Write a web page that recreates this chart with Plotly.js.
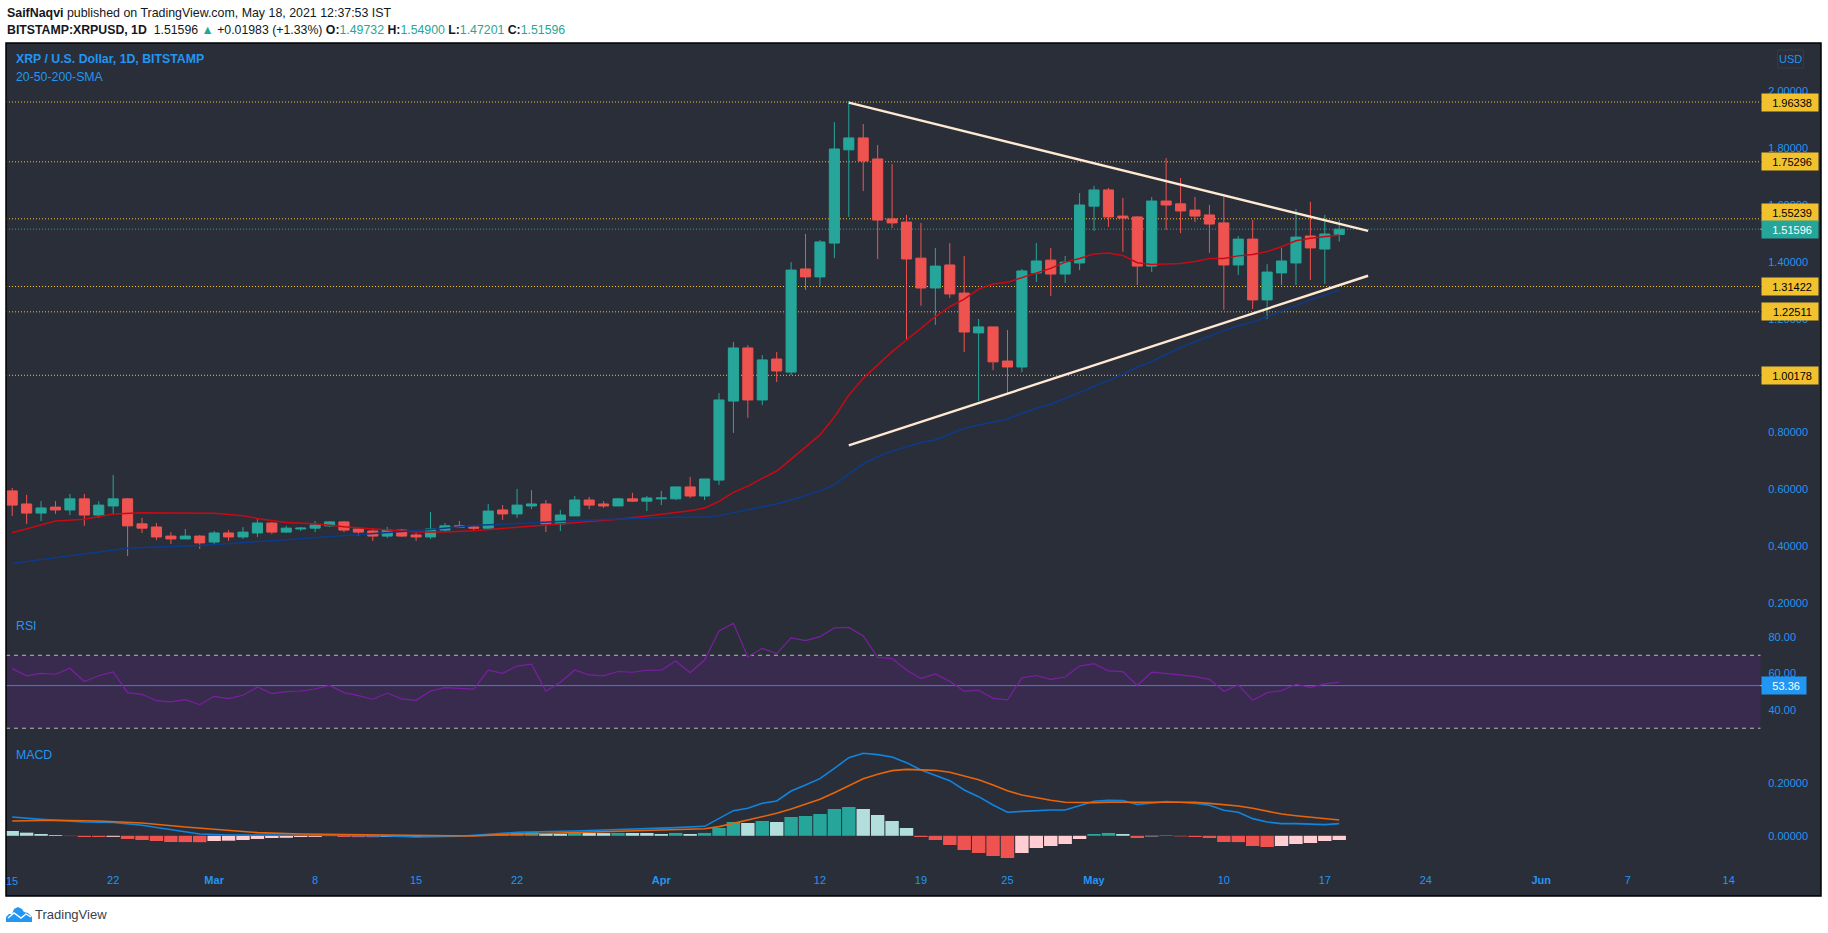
<!DOCTYPE html>
<html>
<head>
<meta charset="utf-8">
<title>XRPUSD</title>
<script src="https://cdn.plot.ly/plotly-3.0.1.min.js"></script>
<style>
  html, body { margin: 0; padding: 0; background: #ffffff; overflow: hidden; }
</style>
</head>
<body>
<div id="chart" style="width:1828px;height:933px;"></div>
<script>
// daily candles, Feb 15 to May 18 2021
var opens = [0.595,0.549,0.517,0.538,0.528,0.567,0.510,0.542,0.567,0.479,0.468,0.436,0.426,0.436,0.415,0.447,0.433,0.447,0.482,0.450,0.461,0.464,0.472,0.486,0.461,0.454,0.436,0.457,0.440,0.433,
  0.457,0.472,0.468,0.464,0.528,0.514,0.542,0.549,0.479,0.507,0.563,0.549,0.542,0.567,0.559,0.567,0.567,0.609,0.577,0.633,0.911,1.098,0.915,1.059,
  1.013,1.376,1.348,1.467,1.795,1.837,1.763,1.552,1.541,1.414,1.309,1.390,1.291,1.151,1.172,1.052,1.031,1.362,1.407,1.358,
  1.397,1.597,1.654,1.562,1.559,1.386,1.615,1.605,1.583,1.566,1.538,1.390,1.481,1.267,1.362,1.397,1.492,1.446,1.49732];
var highs = [0.605,0.581,0.559,0.559,0.584,0.584,0.559,0.651,0.570,0.500,0.482,0.450,0.461,0.440,0.454,0.457,0.468,0.496,0.486,0.472,0.468,0.489,0.489,0.489,0.464,0.464,0.468,0.461,0.447,0.521,
  0.482,0.489,0.475,0.549,0.545,0.602,0.598,0.563,0.528,0.577,0.574,0.559,0.570,0.588,0.577,0.595,0.609,0.644,0.637,0.939,1.119,1.108,1.073,1.084,
  1.400,1.499,1.478,1.893,1.967,1.886,1.812,1.745,1.566,1.538,1.450,1.467,1.422,1.200,1.172,1.161,1.376,1.467,1.450,1.422,
  1.643,1.668,1.661,1.626,1.562,1.629,1.766,1.696,1.629,1.601,1.629,1.492,1.548,1.393,1.450,1.587,1.612,1.566,1.549];
var lows = [0.507,0.479,0.489,0.514,0.510,0.472,0.500,0.510,0.366,0.447,0.422,0.408,0.426,0.391,0.408,0.419,0.426,0.433,0.443,0.447,0.454,0.450,0.468,0.450,0.436,0.419,0.429,0.433,0.419,0.426,
  0.450,0.464,0.454,0.461,0.493,0.500,0.531,0.450,0.454,0.507,0.531,0.535,0.542,0.556,0.524,0.545,0.563,0.570,0.563,0.616,0.799,0.852,0.897,0.978,
  1.003,1.302,1.316,1.414,1.559,1.650,1.411,1.520,1.126,1.246,1.179,1.274,1.084,0.911,1.020,0.939,1.013,1.330,1.281,1.327,
  1.372,1.510,1.524,1.436,1.319,1.365,1.513,1.502,1.541,1.432,1.232,1.355,1.235,1.200,1.319,1.319,1.337,1.323,1.47201];
var closes = [0.545,0.517,0.535,0.528,0.567,0.510,0.545,0.567,0.472,0.464,0.433,0.426,0.436,0.412,0.447,0.433,0.450,0.482,0.450,0.464,0.464,0.475,0.486,0.457,0.450,0.436,0.457,0.436,0.433,0.461,
  0.472,0.467,0.464,0.524,0.514,0.545,0.549,0.479,0.510,0.563,0.545,0.542,0.567,0.559,0.570,0.570,0.609,0.577,0.637,0.915,1.098,0.915,1.056,1.017,
  1.372,1.348,1.471,1.798,1.837,1.756,1.548,1.538,1.411,1.309,1.386,1.288,1.154,1.172,1.049,1.031,1.369,1.404,1.358,1.400,
  1.601,1.654,1.559,1.555,1.386,1.615,1.601,1.580,1.562,1.534,1.390,1.481,1.267,1.365,1.404,1.488,1.450,1.499,1.51596];

// moving averages, read at these day numbers
var sma20Days = [0,3,5,7,9,14,16,17,19,21,23,26,28,30,32,34,37,40,42,44,46,47,48,49,50,51,52,53,54,55,56,57,58,59,60,61,62,63,64,65,66,67,68,69,70,71,72,73,74,75,76,77,78,79,80,81,82,83,84,85,86,87,88,89,90,91,92];
var sma20 = [0.448,0.489,0.495,0.514,0.518,0.516,0.508,0.498,0.484,0.479,0.469,0.459,0.450,0.450,0.455,0.463,0.475,0.486,0.495,0.507,0.518,0.525,0.535,0.558,0.590,0.612,0.639,0.665,0.707,0.748,0.792,0.855,0.932,0.991,1.038,1.085,1.126,1.167,1.208,1.243,1.270,1.305,1.323,1.329,1.345,1.361,1.378,1.400,1.413,1.429,1.432,1.423,1.398,1.392,1.393,1.395,1.402,1.413,1.413,1.422,1.427,1.437,1.454,1.475,1.484,1.490,1.495];
var sma50Days = [0,8,10,13,18,24,29,32,37,40,46,48,49,50,51,52,53,54,55,56,57,58,59,60,61,62,63,64,65,66,67,68,69,70,71,72,73,74,75,76,77,78,79,80,81,82,83,84,85,86,87,88,89,90,91,92];
var sma50 = [0.340,0.393,0.398,0.403,0.420,0.441,0.459,0.473,0.487,0.493,0.502,0.502,0.508,0.518,0.528,0.537,0.549,0.563,0.578,0.595,0.616,0.655,0.690,0.715,0.735,0.750,0.765,0.774,0.794,0.815,0.827,0.836,0.847,0.868,0.886,0.900,0.921,0.942,0.965,0.985,1.005,1.030,1.050,1.075,1.100,1.120,1.140,1.159,1.176,1.189,1.208,1.228,1.247,1.267,1.284,1.301];

// support / resistance
var levels = [1.96338,1.75296,1.55239,1.31422,1.22511,1.00178];
var lastPrice = 1.51596;
var trendDates = ["2021-04-14","2021-05-20"];
var upperTrend = [1.961,1.510];
var lowerTrend = [0.755,1.352];

var rsi = [62.7,58.7,60.1,59.6,62.9,55.6,58.8,60.9,49.5,48.6,45.1,44.4,45.7,42.9,47.5,46.2,48.1,52.6,49.0,50.1,50.4,51.5,53.5,49.5,47.9,45.9,49.3,46.1,45.3,50.4,52.3,52.1,51.5,61.9,60.1,64.1,65.1,50.3,55.2,61.9,59.2,58.7,61.1,
  60.7,61.8,61.8,66.9,60.5,67.4,83.3,87.5,69.1,73.8,70.9,79.5,78.0,80.2,85.0,85.3,80.6,68.9,68.2,61.9,57.2,59.8,55.7,50.3,50.8,46.4,45.5,57.6,58.9,56.8,58.1,64.1,65.4,61.4,61.0,53.5,60.7,60.1,59.2,58.3,56.8,50.3,53.7,45.3,49.5,50.6,54.1,52.4,54.3,55.2];
var rsiNow = 53.36;

var macdHist = [0.0181,0.0118,0.0068,0.0030,-0.0010,-0.0045,-0.0045,-0.0040,-0.0120,-0.0158,-0.0196,-0.0234,-0.0238,-0.0242,-0.0196,-0.0185,-0.0158,-0.0120,-0.0083,-0.0075,-0.0045,-0.0040,-0.0010,-0.0045,-0.0050,-0.0052,-0.0045,-0.0040,-0.0035,-0.0020,-0.0018,-0.0010,-0.0008,
  0.0030,0.0093,0.0118,0.0143,0.0080,0.0078,0.0106,0.0104,0.0102,0.0107,0.0106,0.0105,0.0068,0.0107,0.0068,0.0107,0.0294,0.0520,0.0483,0.0558,0.0520,0.0709,0.0747,0.0822,0.1011,0.1086,0.1011,0.0785,0.0558,0.0294,
  -0.0045,-0.0158,-0.0347,-0.0536,-0.0649,-0.0762,-0.0838,-0.0649,-0.0460,-0.0385,-0.0310,-0.0121,0.0068,0.0107,0.0068,-0.0083,-0.0021,0.0021,-0.0021,-0.0045,-0.0083,-0.0234,-0.0238,-0.0385,-0.0423,-0.0385,-0.0310,-0.0272,-0.0196,-0.0158];
var macdDays = [0,2,5,7,9,11,13,15,18,22,26,28,31,32,33,35,37,39,41,43,46,48,49,50,51,52,53,54,55,56,57,58,59,60,61,62,63,64,65,66,67,68,69,70,71,72,73,74,75,76,77,78,79,80,81,82,83,84,85,86,87,88,89,90,91,92];
var macdLine = [0.0709,0.0621,0.0521,0.0508,0.0395,0.0219,0.0068,0.0030,0.0030,0.0018,-0.0008,-0.0045,-0.0020,0.0005,0.0055,0.0131,0.0143,0.0181,0.0219,0.0244,0.0307,0.0357,0.0647,0.0948,0.1037,0.1225,0.1313,0.1691,0.1917,0.2156,0.2546,0.2948,0.3112,0.3062,0.2973,0.2760,0.2483,0.2294,0.2081,0.1728,0.1477,0.1162,0.0886,0.0923,0.0961,0.0974,0.0974,0.1137,0.1301,0.1338,0.1326,0.1187,0.1250,0.1288,0.1263,0.1225,0.1150,0.0961,0.0886,0.0647,0.0520,0.0458,0.0458,0.0433,0.0420,0.0458];
var signalDays = [0,3,6,9,12,15,17,20,24,28,32,34,37,40,43,46,48,49,50,51,52,53,54,55,56,57,58,59,60,61,62,63,64,65,66,67,68,69,70,71,72,73,74,75,76,78,82,83,84,85,86,87,88,89,90,91,92];
var signalLine = [0.0558,0.0584,0.0558,0.0483,0.0332,0.0194,0.0118,0.0068,0.0043,0.0005,-0.0008,0.0043,0.0093,0.0131,0.0194,0.0231,0.0268,0.0345,0.0470,0.0596,0.0735,0.0848,0.1011,0.1187,0.1376,0.1628,0.1892,0.2156,0.2319,0.2458,0.2508,0.2495,0.2470,0.2395,0.2269,0.2118,0.1917,0.1703,0.1540,0.1426,0.1338,0.1263,0.1250,0.1250,0.1263,0.1263,0.1263,0.1225,0.1187,0.1124,0.1037,0.0936,0.0822,0.0759,0.0697,0.0646,0.0596];

// the Feb 15 label sits on the panel edge and plotly drops it, it is added as text below
var tickDates = ["2021-02-22","2021-03-01","2021-03-08","2021-03-15","2021-03-22","2021-04-01","2021-04-12","2021-04-19","2021-04-25","2021-05-01","2021-05-10","2021-05-17","2021-05-24","2021-06-01","2021-06-07","2021-06-14"];
var tickLabels = ["22","<b>Mar</b>","8","15","22","<b>Apr</b>","12","19","25","<b>May</b>","10","17","24","<b>Jun</b>","7","14"];

function dayToDate(n) {
  return new Date(Date.UTC(2021, 1, 15 + n)).toISOString().slice(0, 10);
}
var dates = closes.map(function (c, i) { return dayToDate(i); });

// plot frame in page pixels, annotations and the logo are placed with these
var W = 1828, H = 933, L = 6, R = 1821.5, T = 43, B = 896, AXIS_X = 1761;
function px(x) { return (x - L) / (R - L); }
function py(y) { return (B - y) / (B - T); }

var GREEN = "#26a69a", RED = "#ef5350", BLUE = "#2196f3", YELLOW = "#f2c12e", PANEL = "#2a2e39";
var TICK_FONT = "'Liberation Sans',sans-serif";
var TEXT_FONT = "'Liberation Sans',sans-serif";
var NB = "&nbsp;&nbsp;";

var histColors = macdHist.map(function (v, i) {
  var prev = i === 0 ? Infinity : macdHist[i - 1];
  if (v >= 0) return v > prev ? GREEN : "#b2dfdb";
  return v > prev ? "#ffcdd2" : RED;
});

var data = [
  {
    type: "candlestick", x: dates, open: opens, high: highs, low: lows, close: closes,
    xaxis: "x", yaxis: "y", whiskerwidth: 0,
    increasing: { line: { color: GREEN, width: 1 }, fillcolor: GREEN },
    decreasing: { line: { color: RED, width: 1 }, fillcolor: RED },
    hoverinfo: "skip"
  },
  {
    type: "scatter", mode: "lines", x: sma20Days.map(dayToDate), y: sma20, yaxis: "y",
    line: { color: "#c80a14", width: 1.5 }, hoverinfo: "skip"
  },
  {
    type: "scatter", mode: "lines", x: sma50Days.map(dayToDate), y: sma50, yaxis: "y",
    line: { color: "#0d3b8c", width: 1.5 }, hoverinfo: "skip"
  },
  {
    type: "scatter", mode: "lines", x: trendDates, y: upperTrend, yaxis: "y",
    line: { color: "#ffe9d2", width: 2.4 }, hoverinfo: "skip"
  },
  {
    type: "scatter", mode: "lines", x: trendDates, y: lowerTrend, yaxis: "y",
    line: { color: "#ffe9d2", width: 2.4 }, hoverinfo: "skip"
  },
  {
    type: "scatter", mode: "lines", x: dates, y: rsi, yaxis: "y2",
    line: { color: "#7b1fa2", width: 1.2 }, hoverinfo: "skip"
  },
  {
    type: "bar", x: dates, y: macdHist, yaxis: "y3", width: 86400000 * 0.93,
    marker: { color: histColors, line: { width: 0 } }, hoverinfo: "skip"
  },
  {
    type: "scatter", mode: "lines", x: macdDays.map(dayToDate), y: macdLine, yaxis: "y3",
    line: { color: "#0f85e0", width: 1.6 }, hoverinfo: "skip"
  },
  {
    type: "scatter", mode: "lines", x: signalDays.map(dayToDate), y: signalLine, yaxis: "y3",
    line: { color: "#e8650a", width: 1.6 }, hoverinfo: "skip"
  }
];

var shapes = [];
var annotations = [];

function addText(x, y, text, size, color, extra) {
  var a = {
    xref: "paper", yref: "paper", x: px(x), y: py(y), text: text, showarrow: false,
    xanchor: "left", yanchor: "middle", borderpad: 0,
    font: { family: TEXT_FONT, size: size, color: color }
  };
  for (var k in extra) a[k] = extra[k];
  annotations.push(a);
}

function addLevel(value, lineColor, tagColor, textColor, yref, tagW, dashed, lift) {
  shapes.push({
    type: "line", layer: "below", xref: "paper", yref: yref, x0: 0, x1: px(AXIS_X), y0: value, y1: value,
    line: { color: lineColor, width: 1, dash: dashed ? "1px,2px" : "solid" }
  });
  annotations.push({
    xref: "paper", yref: yref, x: px(AXIS_X), y: value, xanchor: "left", yanchor: "middle", yshift: lift || 0,
    text: value.toFixed(yref === "y" ? 5 : 2) + NB, showarrow: false, bgcolor: tagColor,
    width: tagW, height: 17, align: "right", borderpad: 0,
    font: { family: TICK_FONT, size: 11, color: textColor }
  });
  // small tick inside the tag, lifted together with it
  var tickY = value + (lift || 0) / 284.2;
  shapes.push({
    type: "line", layer: "above", xref: "paper", yref: yref, x0: px(AXIS_X), x1: px(AXIS_X + 5), y0: tickY, y1: tickY,
    line: { color: textColor, width: 1 }
  });
}

// RSI band first so the lines sit on it
shapes.push({
  type: "rect", layer: "below", xref: "paper", yref: "y2", x0: 0, x1: px(AXIS_X), y0: 30, y1: 70,
  fillcolor: "#392b4e", line: { width: 0 }
});
[70, 30].forEach(function (v) {
  shapes.push({
    type: "line", layer: "below", xref: "paper", yref: "y2", x0: 0, x1: px(AXIS_X), y0: v, y1: v,
    line: { color: "#b8b8be", width: 1, dash: "4px,4px" }
  });
});

levels.forEach(function (v) {
  // the 1.55239 tag is pushed up by the last price tag under it
  addLevel(v, YELLOW, YELLOW, "#000000", "y", 56, true, v === 1.55239 ? 6 : 0);
});
addLevel(lastPrice, GREEN, GREEN, "#ffffff", "y", 56, true, 0);
addLevel(rsiNow, "#3d7fd8", BLUE, "#ffffff", "y2", 44, false, 0);

// frame round the panel
shapes.push({
  type: "rect", layer: "above", xref: "paper", yref: "paper", x0: 0, x1: 1, y0: 0, y1: 1,
  line: { color: "#000000", width: 1.5 }
});

// USD box
shapes.push({
  type: "rect", layer: "above", xref: "paper", yref: "paper", x0: px(1778), x1: px(1804), y0: py(68), y1: py(50),
  line: { color: "#363a45", width: 1 }
});
addText(1791, 59, "USD", 11, BLUE, { xanchor: "center" });
addText(12.2, 881, "15", 11, BLUE, { xanchor: "center" });

// page texts
addText(6, 12.5, "<b>SaifNaqvi</b> published on TradingView.com, May 18, 2021 12:37:53 IST", 12.4, "#131722");
var green = function (s) { return "<span style='color:#26a69a'>" + s + "</span>"; };
addText(6, 30, "<b>BITSTAMP:XRPUSD, 1D</b>  1.51596 " + green("▲") + " +0.01983 (+1.33%) <b>O:</b>" + green("1.49732") +
  " <b>H:</b>" + green("1.54900") + " <b>L:</b>" + green("1.47201") + " <b>C:</b>" + green("1.51596"), 12.3, "#131722");
addText(15, 59.5, "<b>XRP / U.S. Dollar, 1D, BITSTAMP</b>", 12.3, BLUE);
addText(15, 77.5, "20-50-200-SMA", 12.3, BLUE);
addText(15, 626, "RSI", 12.3, BLUE);
addText(15, 755, "MACD", 12.3, BLUE);
addText(34, 914, "TradingView", 13, "#3a3f4b");

// TradingView logo
function logoPath(points) {
  return points.map(function (p, i) {
    return (i === 0 ? "M" : "L") + px(p[0]).toFixed(5) + "," + py(p[1]).toFixed(5);
  }).join(" ");
}
shapes.push({
  type: "path", layer: "above", xref: "paper", yref: "paper",
  path: logoPath([[6,922],[6,917],[9,914],[12,914],[14,909],[18,907],[22,909],[24,912],[28,913],[32,917],[32,922]]) + " Z",
  fillcolor: BLUE, line: { width: 0 }
});
shapes.push({
  type: "path", layer: "above", xref: "paper", yref: "paper",
  path: logoPath([[8,918],[14,913],[21,918],[26,914],[31,917]]),
  line: { color: "#ffffff", width: 1.4 }
});

var yTick = { family: TICK_FONT, size: 11, color: BLUE };

var layout = {
  width: W,
  height: H,
  margin: { l: L, r: W - R, t: T, b: H - B, pad: 0 },
  paper_bgcolor: "#ffffff",
  plot_bgcolor: PANEL,
  showlegend: false,
  hovermode: false,
  dragmode: false,
  shapes: shapes,
  annotations: annotations,
  xaxis: {
    type: "date", anchor: "y3",
    range: ["2021-02-14 13:40", "2021-06-20 09:36"],
    rangeslider: { visible: false },
    tickmode: "array", tickvals: tickDates, ticktext: tickLabels,
    ticklabelposition: "inside", ticks: "", ticklabelstandoff: 7,
    tickangle: 0, showgrid: false, zeroline: false, showline: false,
    tickfont: { family: TICK_FONT, size: 11, color: BLUE }
  },
  yaxis: {
    domain: [py(618), 1], range: [(660 - 618) / 284.2, (660 - 43) / 284.2],
    anchor: "x", side: "right", tick0: 0.2, dtick: 0.2, tickformat: ".5f",
    ticklabelposition: "inside", ticks: "", ticklabelstandoff: 10,
    showgrid: false, zeroline: false, showline: false, tickfont: yTick
  },
  yaxis2: {
    domain: [py(745), py(618)], range: [20.8, 90.44],
    anchor: "x", side: "right", tickmode: "array", tickvals: [40, 60, 80], tickformat: ".2f",
    ticklabelposition: "inside", ticks: "", ticklabelstandoff: 22,
    showgrid: false, zeroline: false, showline: false, tickfont: yTick
  },
  yaxis3: {
    domain: [0, py(745)], range: [-0.2272, 0.3426],
    anchor: "x", side: "right", tickmode: "array", tickvals: [0, 0.2], tickformat: ".5f",
    ticklabelposition: "inside", ticks: "", ticklabelstandoff: 10,
    showgrid: false, zeroline: false, showline: false, tickfont: yTick
  },
  boxmode: "group",
  boxgap: 0.3,
  boxgroupgap: 0
};

Plotly.newPlot("chart", data, layout, { displayModeBar: false, staticPlot: true });
</script>
</body>
</html>
